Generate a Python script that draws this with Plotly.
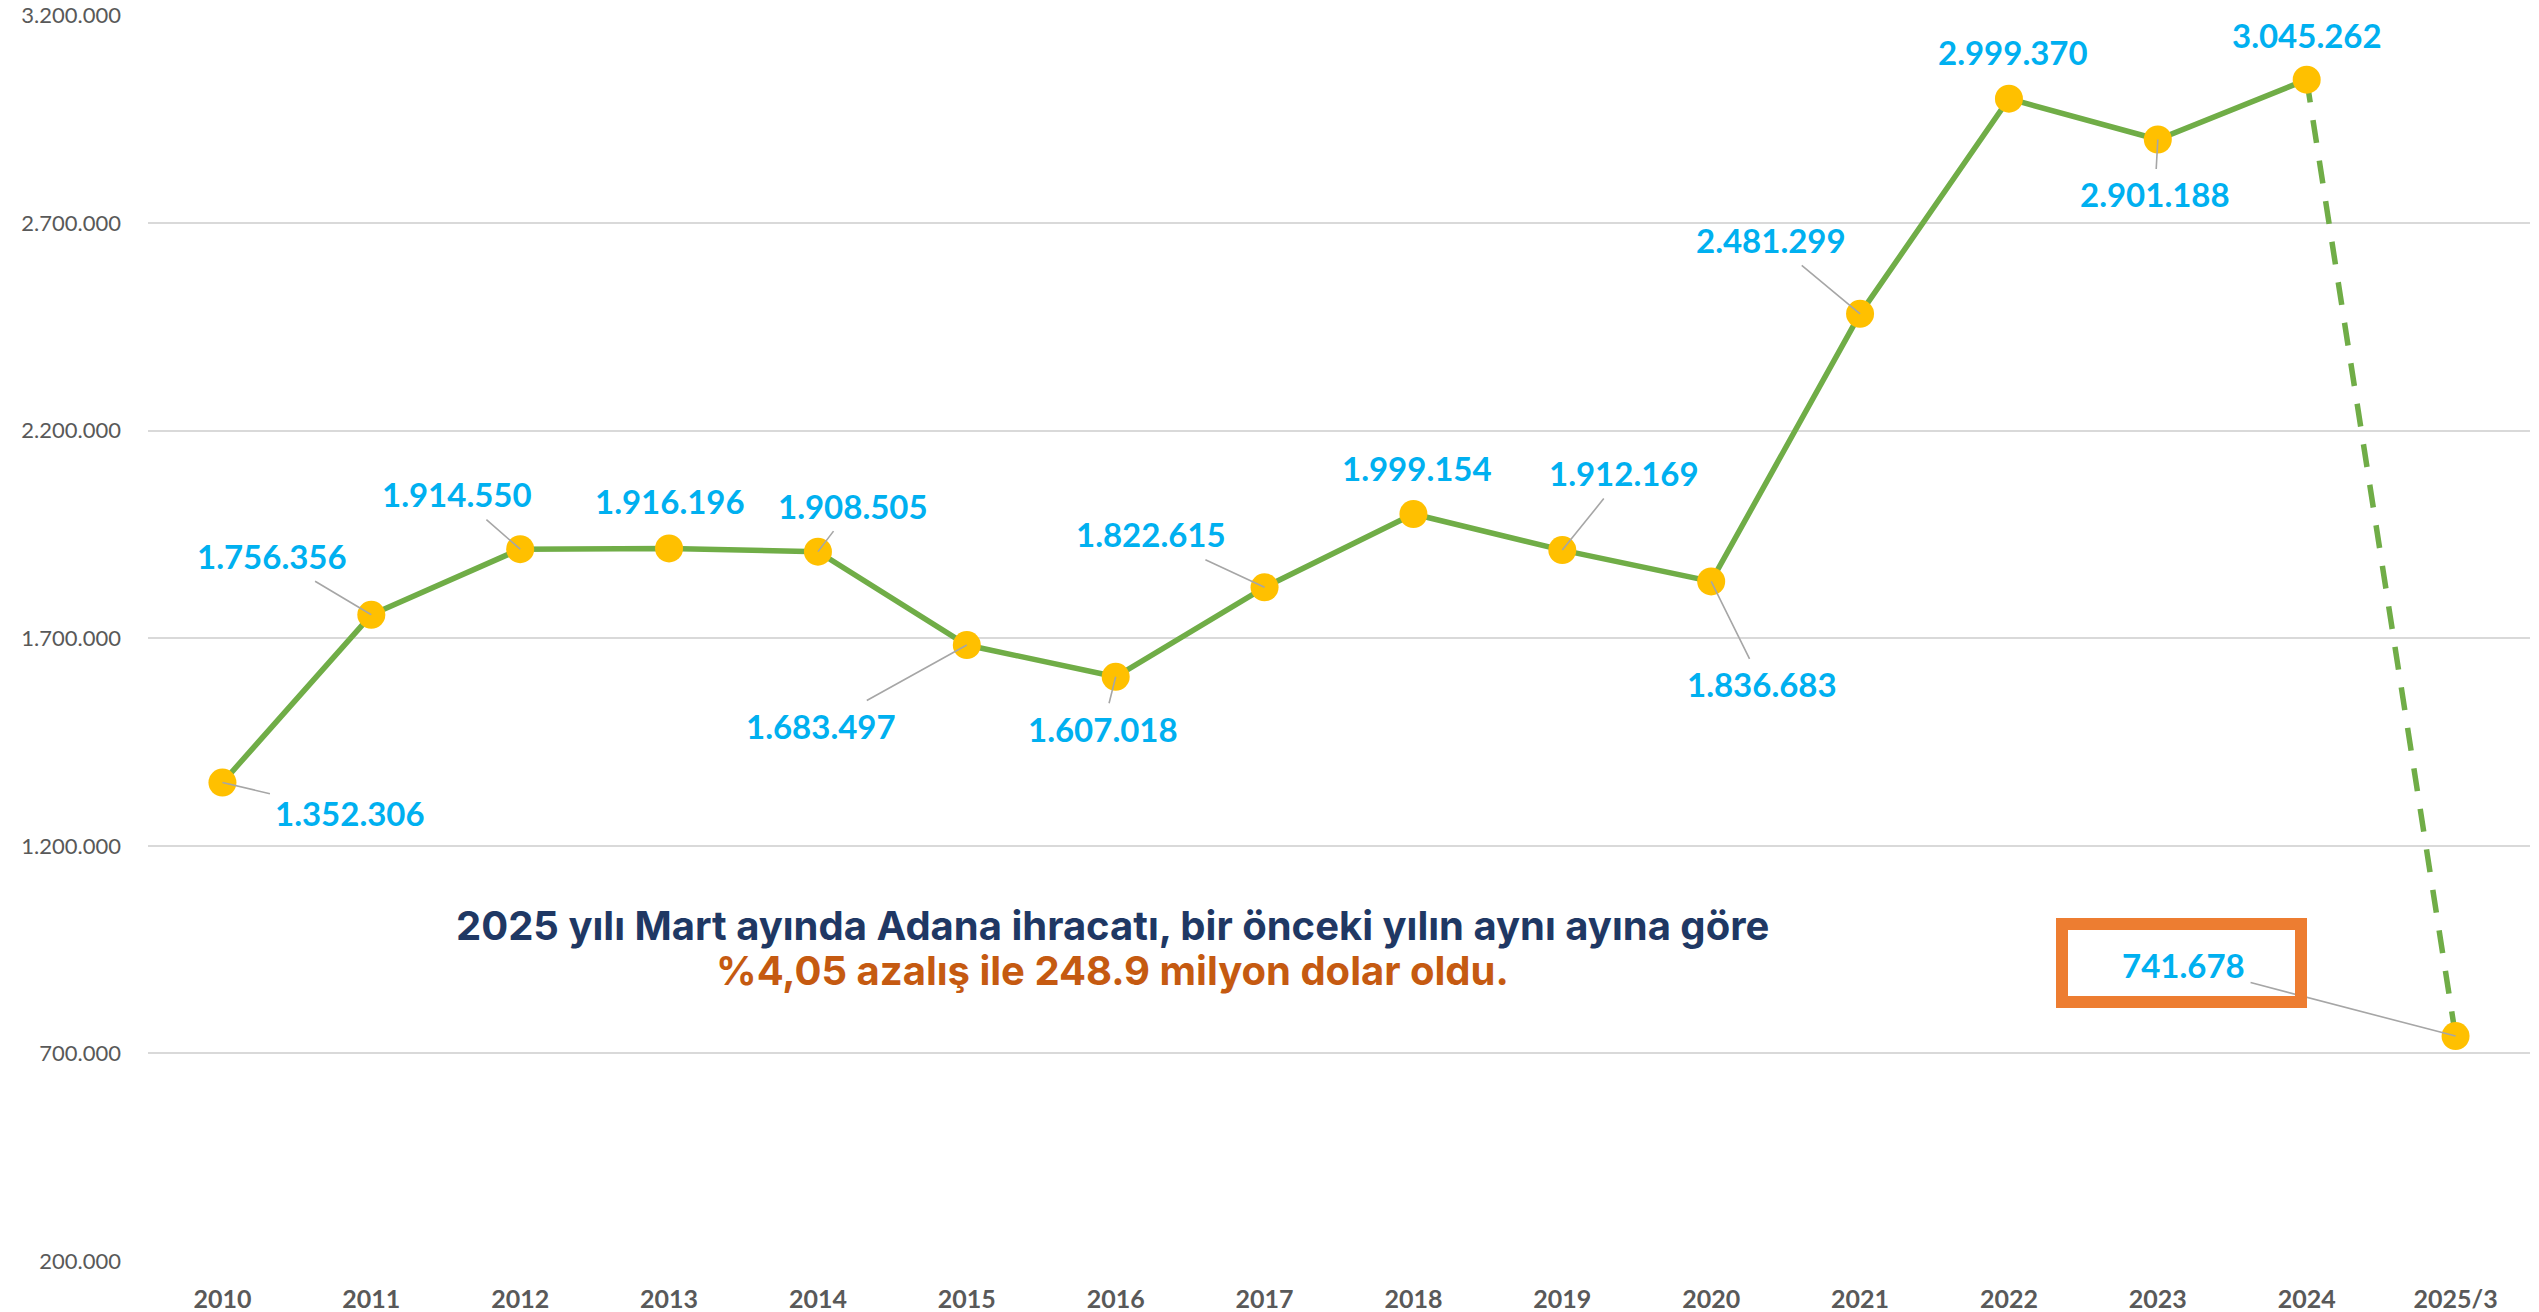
import plotly.graph_objects as go

# ---- data ----
categories = ["2010", "2011", "2012", "2013", "2014", "2015", "2016", "2017",
              "2018", "2019", "2020", "2021", "2022", "2023", "2024", "2025/3"]
exports = [1352306, 1756356, 1914550, 1916196, 1908505, 1683497, 1607018, 1822615,
           1999154, 1912169, 1836683, 2481299, 2999370, 2901188, 3045262, 741678]
y_ticks = [200000, 700000, 1200000, 1700000, 2200000, 2700000, 3200000]

headline_1 = "2025 yılı Mart ayında Adana ihracatı, bir önceki yılın aynı ayına göre"
headline_2 = "%4,05 azalış ile 248.9 milyon dolar oldu."

# ---- label placement (pixel offsets of each data label from its point) ----
label_dx = [128, -99, -63, 1, 35, -146, -13, -114, 4, 62, 51, -89, 4, -3, 0, -272]
label_dy = [30, -59, -55, -47, -46, 81, 52, -53, -46, -77, 103, -74, -47, 55, -45, -71]
has_leader = [True, True, True, False, True, True, True, True,
              False, True, True, True, False, True, False, True]

GREEN = "#70AD47"
YELLOW = "#FFC000"
BLUE = "#00B0F0"
GREY_TXT = "#595959"
GRID = "#D9D9D9"
LEADER = "#A6A6A6"
NAVY = "#1F3864"
ORANGE_TXT = "#C55A11"
ORANGE_BOX = "#ED7D31"


def fmt(v):
    return f"{v:,}".replace(",", ".")


fig = go.Figure()

# solid line up to 2024
fig.add_trace(go.Scatter(
    x=categories[:-1], y=exports[:-1], mode="lines",
    line=dict(color=GREEN, width=5.5), hoverinfo="skip", showlegend=False))
# dashed last segment
fig.add_trace(go.Scatter(
    x=categories[-2:], y=exports[-2:], mode="lines",
    line=dict(color=GREEN, width=5.5, dash="23px,18px"), hoverinfo="skip", showlegend=False))
# markers
fig.add_trace(go.Scatter(
    x=categories, y=exports, mode="markers",
    marker=dict(color=YELLOW, size=28, line=dict(width=0)), showlegend=False))

annotations = []
for i, v in enumerate(exports):
    # x given as the category index so numeric-looking category names are not misread
    annotations.append(dict(
        x=i, y=v, xref="x", yref="y",
        text=f"<b>{fmt(v)}</b>", showarrow=True,
        ax=label_dx[i], ay=label_dy[i], axref="pixel", ayref="pixel",
        arrowhead=0, arrowwidth=1.6, standoff=0, startstandoff=0,
        arrowcolor=LEADER if has_leader[i] else "rgba(0,0,0,0)",
        font=dict(family="Lato", size=33, color=BLUE),
        borderpad=5,
    ))

# orange frame around the last label
last = len(exports) - 1
annotations.append(dict(
    x=last, y=exports[last], xref="x", yref="y",
    text="", showarrow=True, ax=label_dx[last] - 2, ay=label_dy[last] - 2,
    arrowcolor="rgba(0,0,0,0)", arrowwidth=1,
    width=227, height=66, borderpad=0,
    bordercolor=ORANGE_BOX, borderwidth=12, bgcolor="rgba(0,0,0,0)",
))

# headline text
annotations.append(dict(
    x=0.405, y=0.269, xref="paper", yref="paper", showarrow=False,
    text=f"<b>{headline_1}</b>", xanchor="center", yanchor="middle",
    font=dict(family="Inter", size=40, color=NAVY)))
annotations.append(dict(
    x=0.405, y=0.233, xref="paper", yref="paper", showarrow=False,
    text=f"<b>{headline_2}</b>", xanchor="center", yanchor="middle",
    font=dict(family="Inter", size=40, color=ORANGE_TXT)))

fig.update_layout(
    width=2539, height=1312,
    margin=dict(l=148, r=9, t=15, b=51),
    paper_bgcolor="white", plot_bgcolor="white",
    separators=",.",
    showlegend=False,
    annotations=annotations,
    font=dict(family="Lato"),
)
fig.update_xaxes(
    type="category", categoryorder="array", categoryarray=categories,
    range=[-0.5, len(categories) - 0.5],
    showgrid=False, zeroline=False, showline=False, ticks="",
    tickfont=dict(family="Lato", size=25, color=GREY_TXT, weight="bold"),
    ticklabelstandoff=21, automargin=False,
)
fig.update_yaxes(
    range=[200000, 3201000], tickvals=y_ticks,
    ticktext=[fmt(t) for t in y_ticks],
    showgrid=True, gridcolor=GRID, gridwidth=2,
    zeroline=False, showline=False, ticks="",
    tickfont=dict(family="Lato", size=22, color=GREY_TXT),
    ticklabelstandoff=26, automargin=False, ticklabeloverflow="allow",
)

fig.write_html("out.html", config={"displayModeBar": False},
               post_script="document.body.style.margin='0';document.body.style.overflow='hidden';")
